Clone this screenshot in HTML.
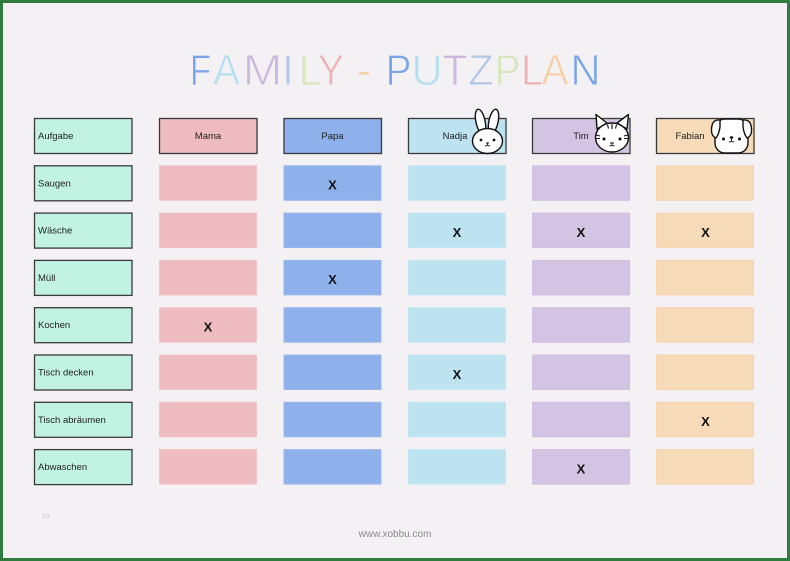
<!DOCTYPE html>
<html><head><meta charset="utf-8"><style>
html,body{margin:0;padding:0;background:#2f7b40;}
svg{display:block;}
</style></head><body>
<svg width="790" height="561" viewBox="0 0 790 561" xmlns="http://www.w3.org/2000/svg" font-family="'Liberation Sans', sans-serif">
<rect x="0" y="0" width="790" height="561" fill="#2f7b40"/>
<rect x="3" y="3" width="784" height="555" fill="#f3f1f4"/>

<!-- Title -->
<g font-size="44" text-anchor="middle" stroke="#f3f1f4" stroke-width="0.9">
<text transform="translate(200.5,85) scale(0.8,1)" fill="#7ba5e9">F</text>
<text transform="translate(226.5,85) scale(0.92,1)" fill="#b5e0f1">A</text>
<text transform="translate(262.5,85) scale(1.08,1)" fill="#cdb9e0">M</text>
<text transform="translate(288,85) scale(1,1)" fill="#b3c8ea">I</text>
<text transform="translate(310,85) scale(0.92,1)" fill="#d7e7b9">L</text>
<text transform="translate(331,85) scale(0.9,1)" fill="#eeb2b6">Y</text>
<text transform="translate(364,85) scale(1,1)" fill="#f6cfa5">-</text>
<text transform="translate(398.5,85) scale(0.88,1)" fill="#7ba5e9">P</text>
<text transform="translate(427,85) scale(0.98,1)" fill="#b5e0f1">U</text>
<text transform="translate(455,85) scale(0.95,1)" fill="#cdb9e0">T</text>
<text transform="translate(481,85) scale(0.95,1)" fill="#b3c8ea">Z</text>
<text transform="translate(507.5,85) scale(0.88,1)" fill="#d7e7b9">P</text>
<text transform="translate(532,85) scale(0.9,1)" fill="#eeb2b6">L</text>
<text transform="translate(555,85) scale(0.92,1)" fill="#f6cfa5">A</text>
<text transform="translate(585.5,85) scale(0.95,1)" fill="#7ba5e9">N</text>
</g>

<!-- Header row -->
<g stroke="#3a3a3a" stroke-width="1.3">
<rect x="34.5" y="118.5" width="97.5" height="35" fill="#c1f2e2"/>
<rect x="159.5" y="118.5" width="97.5" height="35" fill="#eebbc0"/>
<rect x="284" y="118.5" width="97.5" height="35" fill="#8fb1eb"/>
<rect x="408.5" y="118.5" width="97.5" height="35" fill="#bde3f1"/>
<rect x="532.5" y="118.5" width="97.5" height="35" fill="#d4c4e3"/>
<rect x="656.5" y="118.5" width="97.5" height="35" fill="#f7dbb9"/>
</g>
<g font-size="9.5" fill="#222">
<text x="38" y="139">Aufgabe</text>
<text x="208" y="139" text-anchor="middle">Mama</text>
<text x="332.5" y="139" text-anchor="middle">Papa</text>
<text x="455" y="139" text-anchor="middle">Nadja</text>
<text x="581" y="139" text-anchor="middle">Tim</text>
<text x="690" y="139" text-anchor="middle">Fabian</text>
</g>

<!-- Label boxes -->
<g stroke="#3a3a3a" stroke-width="1.3" fill="#c1f2e2">
<rect x="34.5" y="165.8" width="97.5" height="35"/>
<rect x="34.5" y="213.1" width="97.5" height="35"/>
<rect x="34.5" y="260.4" width="97.5" height="35"/>
<rect x="34.5" y="307.7" width="97.5" height="35"/>
<rect x="34.5" y="355" width="97.5" height="35"/>
<rect x="34.5" y="402.3" width="97.5" height="35"/>
<rect x="34.5" y="449.6" width="97.5" height="35"/>
</g>
<g font-size="9.5" fill="#222">
<text x="38" y="186.3">Saugen</text>
<text x="38" y="233.6">Wäsche</text>
<text x="38" y="280.9">Müll</text>
<text x="38" y="328.2">Kochen</text>
<text x="38" y="375.5">Tisch decken</text>
<text x="38" y="422.8">Tisch abräumen</text>
<text x="38" y="470.1">Abwaschen</text>
</g>

<!-- Data cells -->
<g stroke-width="1">
<g fill="#eebbc0" stroke="#f2c3c7">
<rect x="159.5" y="165.8" width="97" height="34.5"/>
<rect x="159.5" y="213.1" width="97" height="34.5"/>
<rect x="159.5" y="260.4" width="97" height="34.5"/>
<rect x="159.5" y="307.7" width="97" height="34.5"/>
<rect x="159.5" y="355" width="97" height="34.5"/>
<rect x="159.5" y="402.3" width="97" height="34.5"/>
<rect x="159.5" y="449.6" width="97" height="34.5"/>
</g>
<g fill="#8fb1eb" stroke="#9ab8ec">
<rect x="284" y="165.8" width="97" height="34.5"/>
<rect x="284" y="213.1" width="97" height="34.5"/>
<rect x="284" y="260.4" width="97" height="34.5"/>
<rect x="284" y="307.7" width="97" height="34.5"/>
<rect x="284" y="355" width="97" height="34.5"/>
<rect x="284" y="402.3" width="97" height="34.5"/>
<rect x="284" y="449.6" width="97" height="34.5"/>
</g>
<g fill="#bde3f1" stroke="#c5e6f2">
<rect x="408.5" y="165.8" width="97" height="34.5"/>
<rect x="408.5" y="213.1" width="97" height="34.5"/>
<rect x="408.5" y="260.4" width="97" height="34.5"/>
<rect x="408.5" y="307.7" width="97" height="34.5"/>
<rect x="408.5" y="355" width="97" height="34.5"/>
<rect x="408.5" y="402.3" width="97" height="34.5"/>
<rect x="408.5" y="449.6" width="97" height="34.5"/>
</g>
<g fill="#d4c4e3" stroke="#d0bfe2">
<rect x="532.5" y="165.8" width="97" height="34.5"/>
<rect x="532.5" y="213.1" width="97" height="34.5"/>
<rect x="532.5" y="260.4" width="97" height="34.5"/>
<rect x="532.5" y="307.7" width="97" height="34.5"/>
<rect x="532.5" y="355" width="97" height="34.5"/>
<rect x="532.5" y="402.3" width="97" height="34.5"/>
<rect x="532.5" y="449.6" width="97" height="34.5"/>
</g>
<g fill="#f7dbb9" stroke="#f5d4ae">
<rect x="656.5" y="165.8" width="97" height="34.5"/>
<rect x="656.5" y="213.1" width="97" height="34.5"/>
<rect x="656.5" y="260.4" width="97" height="34.5"/>
<rect x="656.5" y="307.7" width="97" height="34.5"/>
<rect x="656.5" y="355" width="97" height="34.5"/>
<rect x="656.5" y="402.3" width="97" height="34.5"/>
<rect x="656.5" y="449.6" width="97" height="34.5"/>
</g>
</g>

<!-- X marks -->
<g font-size="13" font-weight="bold" fill="#111" text-anchor="middle">
<text x="332.5" y="189.6">X</text>
<text x="457" y="236.9">X</text>
<text x="581" y="236.9">X</text>
<text x="705.5" y="236.9">X</text>
<text x="332.5" y="284.2">X</text>
<text x="208" y="331.5">X</text>
<text x="457" y="378.8">X</text>
<text x="705.5" y="426.1">X</text>
<text x="581" y="473.4">X</text>
</g>

<!-- Bunny -->
<g stroke="#111" stroke-width="1.4" fill="#fff">
<ellipse cx="480.5" cy="121.5" rx="4.6" ry="12.5" transform="rotate(-12 480.5 121.5)"/>
<ellipse cx="493.5" cy="121.5" rx="4.6" ry="12.5" transform="rotate(12 493.5 121.5)"/>
<ellipse cx="487.5" cy="141" rx="15" ry="12.5"/>
</g>
<g fill="#111">
<circle cx="481" cy="140" r="1.4"/>
<circle cx="494" cy="140" r="1.4"/>
</g>
<path d="M486 143 L489 143 M487.5 143 L487.5 145 M485 145.5 Q486.2 146.6 487.5 145 Q488.8 146.6 490 145.5" stroke="#111" stroke-width="0.9" fill="none"/>

<!-- Cat -->
<g stroke="#111" stroke-width="1.4" fill="#fff" stroke-linejoin="round">
<path d="M597 129 L596 114.5 L607 123 Z"/>
<path d="M627 129 L628.5 114.5 L617 123 Z"/>
<ellipse cx="612" cy="137.5" rx="16.5" ry="14.5"/>
</g>
<g stroke="#111" stroke-width="1.1" fill="none">
<path d="M612 124 L612 129 M607.5 124.8 L608.5 128.5 M616.5 124.8 L615.5 128.5"/>
<path d="M596 135 L600 136 M596 138.5 L600 138.5 M628 135 L624 136 M628 138.5 L624 138.5"/>
<path d="M610 143 L614 143 M612 143 L612 145 M609.5 145.5 Q610.8 146.6 612 145 Q613.2 146.6 614.5 145.5" stroke-width="0.9"/>
</g>
<g fill="#111">
<circle cx="604" cy="139" r="1.5"/>
<circle cx="620" cy="139" r="1.5"/>
</g>

<!-- Dog -->
<g stroke="#111" stroke-width="1.4" fill="#fff" stroke-linejoin="round">
<rect x="715" y="119" width="33" height="34" rx="10"/>
<path d="M720 120 Q712 119 711.5 129 Q711 136 716 138 Q719 134 720 127 Z"/>
<path d="M743 120 Q751 119 751.5 129 Q752 136 747 138 Q744 134 743 127 Z"/>
</g>
<g fill="#111">
<circle cx="723.5" cy="139" r="1.5"/>
<circle cx="739.5" cy="139" r="1.5"/>
<ellipse cx="731.5" cy="137.5" rx="1.8" ry="1.2"/>
</g>
<path d="M731.5 138.5 L731.5 141 M729 141.5 Q730.2 142.6 731.5 141 Q732.8 142.6 734 141.5" stroke="#111" stroke-width="0.9" fill="none"/>

<!-- Footer -->
<text x="45.5" y="518.5" font-size="7" font-weight="bold" fill="#d6d6d6" text-anchor="middle">20</text>
<text x="395" y="537" font-size="10" fill="#8a8a8a" text-anchor="middle">www.xobbu.com</text>
</svg>
</body></html>
